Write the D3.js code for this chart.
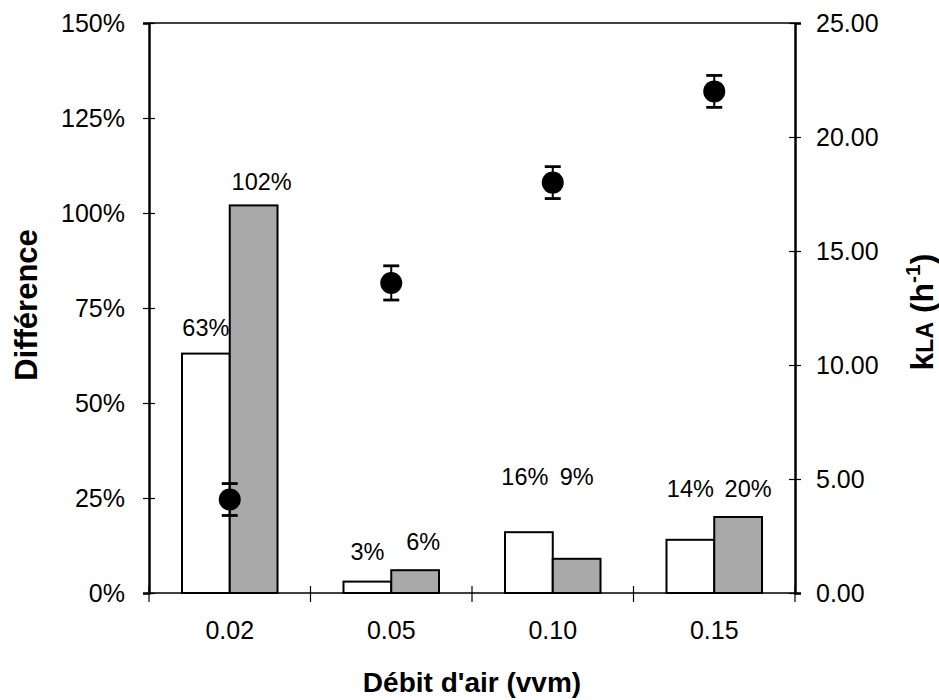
<!DOCTYPE html>
<html>
<head>
<meta charset="utf-8">
<script src="https://cdn.jsdelivr.net/npm/d3@7"></script>
<style>
  html, body { margin: 0; padding: 0; background: #fff; }
  svg { display: block; font-family: "Liberation Sans", Arial, sans-serif; }
</style>
</head>
<body>
<svg id="chart" width="939" height="700"></svg>
<script>
// Airflow rates (vvm)
const categories = ["0.02", "0.05", "0.10", "0.15"];
// Difference (%) — white and grey bars
const diffWhite = [63, 3, 16, 14];
const diffGrey = [102, 6, 9, 20];
// kLa (h^-1) with error
const kla = [4.1, 13.6, 18.0, 22.0];
const klaErr = [0.7, 0.75, 0.7, 0.7];
// Axis ticks
const leftTicks = [0, 25, 50, 75, 100, 125, 150];
const rightTicks = [0, 5, 10, 15, 20, 25];

// Label placement (baseline in % units, horizontal nudge in px)
const labelBase = [[67.6, 106], [8.7, 11.3], [28.4, 28.4], [25.3, 25.3]];
const labelDx = [[0, 8], [0, 8], [-4, 0], [0, 10]];

const svg = d3.select("#chart");
const L = 149, R = 795, T = 23, B = 593;

const x = d3.scaleBand().domain(categories).range([L, R]).padding(0);
const inner = d3.scaleBand().domain(["w", "g"]).range([33, x.bandwidth() - 33]).padding(0);
const yL = d3.scaleLinear().domain([0, 150]).range([B, T]);
const yR = d3.scaleLinear().domain([0, 25]).range([B, T]);

const grey = "#a9a9a9";

// Bars
const series = [
  { key: "w", values: diffWhite, fill: "#ffffff" },
  { key: "g", values: diffGrey, fill: grey }
];
series.forEach((s, si) => {
  svg.append("g").selectAll("rect").data(s.values).join("rect")
    .attr("x", (d, i) => x(categories[i]) + inner(s.key))
    .attr("y", d => yL(d))
    .attr("width", inner.bandwidth())
    .attr("height", d => yL(0) - yL(d))
    .attr("fill", s.fill)
    .attr("stroke", "#000")
    .attr("stroke-width", 2);
  svg.append("g").selectAll("text").data(s.values).join("text")
    .attr("x", (d, i) => x(categories[i]) + inner(s.key) + inner.bandwidth() / 2 + labelDx[i][si])
    .attr("y", (d, i) => yL(labelBase[i][si]))
    .attr("text-anchor", "middle")
    .attr("font-size", 23.5)
    .attr("fill", "#000")
    .text(d => d + "%");
});

// Frame: top and bottom lines, left and right axes
svg.append("line").attr("x1", L).attr("x2", R).attr("y1", T).attr("y2", T)
  .attr("stroke", "#000").attr("stroke-width", 1.5);
svg.append("line").attr("x1", L).attr("x2", R).attr("y1", B).attr("y2", B)
  .attr("stroke", "#000").attr("stroke-width", 1.5);

// Left axis
const axL = d3.axisLeft(yL).tickValues(leftTicks).tickFormat(d => d + "%").tickSize(6).tickPadding(18);
const gL = svg.append("g").attr("transform", `translate(${L},0)`).call(axL);
gL.select(".domain").attr("stroke-width", 2.5);
gL.selectAll(".tick line").attr("x2", 6).attr("x1", -6).attr("stroke-width", 1.2);
gL.selectAll(".tick text").attr("font-size", 25).attr("font-family", "Liberation Sans, Arial, sans-serif").attr("fill", "#000");

// Right axis
const axR = d3.axisRight(yR).tickValues(rightTicks).tickFormat(d => d.toFixed(2)).tickSize(6).tickPadding(15);
const gR = svg.append("g").attr("transform", `translate(${R},0)`).call(axR);
gR.select(".domain").attr("stroke-width", 2.5);
gR.selectAll(".tick line").attr("x1", -6).attr("x2", 6).attr("stroke-width", 1.2);
gR.selectAll(".tick text").attr("font-size", 25).attr("font-family", "Liberation Sans, Arial, sans-serif").attr("fill", "#000");

// Bottom axis: category labels centred, ticks at band boundaries
const boundaries = categories.map(c => x(c)).concat([R]);
svg.append("g").selectAll("line").data(boundaries).join("line")
  .attr("x1", d => d).attr("x2", d => d)
  .attr("y1", B - 7).attr("y2", B + 9)
  .attr("stroke", "#000").attr("stroke-width", 1.2);
svg.append("g").selectAll("text").data(categories).join("text")
  .attr("x", d => x(d) + x.bandwidth() / 2)
  .attr("y", 639)
  .attr("text-anchor", "middle")
  .attr("font-size", 25)
  .text(d => d);

// kLa points with error bars
const pts = svg.append("g");
kla.forEach((v, i) => {
  const cx = x(categories[i]) + x.bandwidth() / 2;
  const e = klaErr[i];
  pts.append("line").attr("x1", cx).attr("x2", cx).attr("y1", yR(v - e)).attr("y2", yR(v + e))
    .attr("stroke", "#000").attr("stroke-width", 2);
  [v - e, v + e].forEach(w => {
    pts.append("line").attr("x1", cx - 8).attr("x2", cx + 8).attr("y1", yR(w)).attr("y2", yR(w))
      .attr("stroke", "#000").attr("stroke-width", 2.8);
  });
  pts.append("circle").attr("cx", cx).attr("cy", yR(v)).attr("r", 11).attr("fill", "#000");
});

// Axis titles
svg.append("text")
  .attr("x", (L + R) / 2).attr("y", 692)
  .attr("text-anchor", "middle")
  .attr("font-size", 28).attr("font-weight", "bold")
  .text("Débit d'air (vvm)");

svg.append("text")
  .attr("transform", "translate(37,305) rotate(-90)")
  .attr("text-anchor", "middle")
  .attr("font-size", 31).attr("font-weight", "bold")
  .text("Différence");

const kt = svg.append("text")
  .attr("transform", "translate(933,312) rotate(-90)")
  .attr("text-anchor", "middle")
  .attr("font-size", 32).attr("font-weight", "bold");
kt.append("tspan").text("k");
kt.append("tspan").attr("font-size", 23).text("LA");
kt.append("tspan").text(" (h");
kt.append("tspan").attr("font-size", 21).attr("dy", -13).text("-1");
kt.append("tspan").attr("dy", 13).text(")");
</script>
</body>
</html>
